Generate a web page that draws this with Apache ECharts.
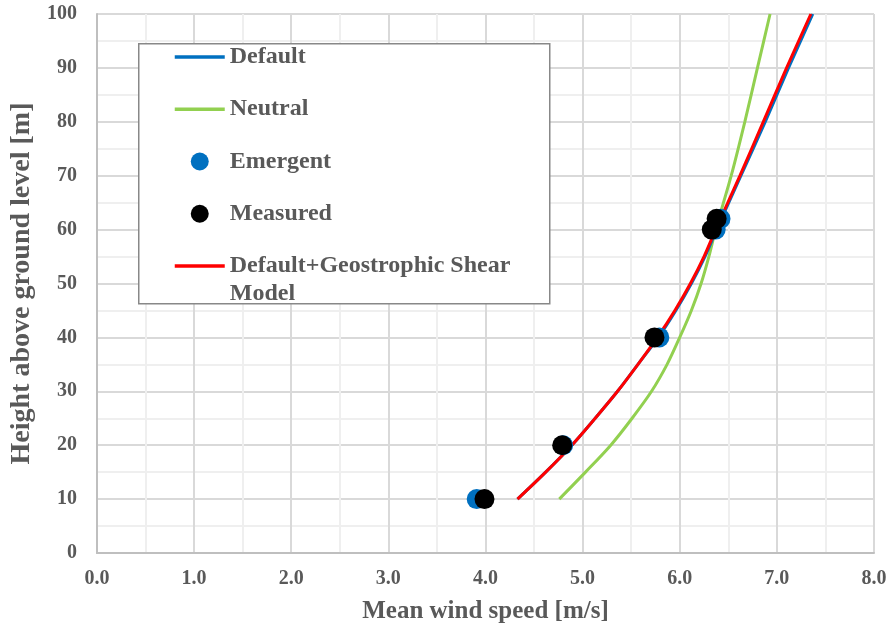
<!DOCTYPE html>
<html>
<head>
<meta charset="utf-8">
<script src="https://cdn.jsdelivr.net/npm/echarts@6/dist/echarts.min.js"></script>
<style>html,body{margin:0;padding:0;background:#fff}#c{width:891px;height:635px}</style>
</head>
<body>
<div id="c"></div>
<script>
// ---- data ----
var lineHeights = [10, 15, 20, 25, 30, 35, 40, 45, 50, 55, 60, 70, 80, 90, 100];
var defaultSpeed = [4.33, 4.62, 4.89, 5.13, 5.36, 5.57, 5.78, 5.96, 6.12, 6.26, 6.38, 6.63, 6.88, 7.12, 7.37];
var neutralSpeed = [4.76, 5.03, 5.29, 5.51, 5.71, 5.87, 6.00, 6.12, 6.22, 6.30, 6.37, 6.53, 6.67, 6.80, 6.93];
var geoShearSpeed = [4.33, 4.62, 4.89, 5.13, 5.36, 5.57, 5.77, 5.95, 6.11, 6.25, 6.37, 6.62, 6.86, 7.10, 7.35];
var pointHeights = [10, 20, 40, 60, 62];
var emergentSpeed = [3.91, 4.80, 5.79, 6.37, 6.42];
var measuredSpeed = [3.99, 4.79, 5.74, 6.33, 6.38];
var seriesNames = ['Default', 'Neutral', 'Emergent', 'Measured', 'Default+Geostrophic Shear Model'];

function pairs(xs, ys) { return xs.map(function (x, i) { return [x, ys[i]]; }); }

var FONT = '"Liberation Serif", "Times New Roman", serif';
var TXT = '#595959';
var chart = echarts.init(document.getElementById('c'), null, { renderer: 'canvas' });

var legendText = {
  fontFamily: FONT, fontWeight: 'bold', fontSize: 24, color: TXT,
  lineHeight: 28, padding: [28, 0, 28, 0], backgroundColor: 'rgba(255,255,255,0)'
};
var lastText = Object.assign({}, legendText, { padding: [0, 0, 0, 0] });
var hiddenSym = { opacity: 0 };

chart.setOption({
  animation: false,
  backgroundColor: '#fff',
  grid: { left: 95, right: 17, top: 14, bottom: 82 },
  graphic: [{
    type: 'rect', z: 3, left: 138, top: 43,
    shape: { width: 411, height: 260 },
    style: { fill: '#fff', stroke: '#888', lineWidth: 1.5 }
  }],
  legend: {
    orient: 'vertical', left: 173, top: 15, padding: 0, z: 5,
    itemWidth: 50, itemHeight: 18, itemGap: -31.75,
    selectedMode: false,
    textStyle: legendText,
    formatter: function (n) { return n === seriesNames[4] ? ' \nDefault+Geostrophic Shear\nModel' : n; },
    data: [
      { name: seriesNames[0], textStyle: legendText, itemStyle: hiddenSym, lineStyle: { width: 3.5, color: '#0070C0' } },
      { name: seriesNames[1], textStyle: legendText, itemStyle: hiddenSym, lineStyle: { width: 3.5, color: '#92D050' } },
      { name: seriesNames[2], icon: 'circle', textStyle: legendText },
      { name: seriesNames[3], icon: 'circle', textStyle: legendText },
      { name: seriesNames[4], textStyle: lastText, itemStyle: hiddenSym, lineStyle: { width: 3.5, color: '#FF0000' } }
    ]
  },
  xAxis: {
    type: 'value', min: 0, max: 8, interval: 1,
    name: 'Mean wind speed [m/s]', nameLocation: 'middle', nameGap: 46,
    nameTextStyle: { fontFamily: FONT, fontWeight: 'bold', fontSize: 25, color: TXT },
    axisLine: { show: true, lineStyle: { color: '#bfbfbf', width: 2 } },
    axisTick: { show: false },
    minorTick: { show: false, splitNumber: 2 },
    axisLabel: { margin: 16, fontFamily: FONT, fontWeight: 'bold', fontSize: 20, color: TXT,
      formatter: function (v) { return v.toFixed(1); } },
    splitLine: { show: true, lineStyle: { color: '#d9d9d9', width: 2 } },
    minorSplitLine: { show: true, lineStyle: { color: '#efefef', width: 2 } }
  },
  yAxis: {
    type: 'value', min: 0, max: 100, interval: 10,
    name: 'Height above ground level [m]', nameLocation: 'middle', nameGap: 58,
    nameTextStyle: { fontFamily: FONT, fontWeight: 'bold', fontSize: 28, color: TXT },
    axisLine: { show: true, lineStyle: { color: '#bfbfbf', width: 2 } },
    axisTick: { show: false },
    minorTick: { show: false, splitNumber: 2 },
    axisLabel: { margin: 20, fontFamily: FONT, fontWeight: 'bold', fontSize: 20, color: TXT },
    splitLine: { show: true, lineStyle: { color: '#d9d9d9', width: 2 } },
    minorSplitLine: { show: true, lineStyle: { color: '#efefef', width: 2 } }
  },
  series: [
    { name: seriesNames[1], type: 'line', data: pairs(neutralSpeed, lineHeights), smooth: 0.3,
      symbol: 'none', color: '#92D050', lineStyle: { width: 3, color: '#92D050' }, z: 2 },
    { name: seriesNames[0], type: 'line', data: pairs(defaultSpeed, lineHeights), smooth: 0.3,
      symbol: 'none', color: '#0070C0', lineStyle: { width: 3, color: '#0070C0' }, z: 2 },
    { name: seriesNames[4], type: 'line', data: pairs(geoShearSpeed, lineHeights), smooth: 0.3,
      symbol: 'none', color: '#FF0000', lineStyle: { width: 3, color: '#FF0000' }, z: 2 },
    { name: seriesNames[2], type: 'scatter', data: pairs(emergentSpeed, pointHeights),
      symbol: 'circle', symbolSize: 20, itemStyle: { color: '#0070C0', opacity: 1 }, z: 3 },
    { name: seriesNames[3], type: 'scatter', data: pairs(measuredSpeed, pointHeights),
      symbol: 'circle', symbolSize: 20, itemStyle: { color: '#000000', opacity: 1 }, z: 3 }
  ]
});
</script>
</body>
</html>
